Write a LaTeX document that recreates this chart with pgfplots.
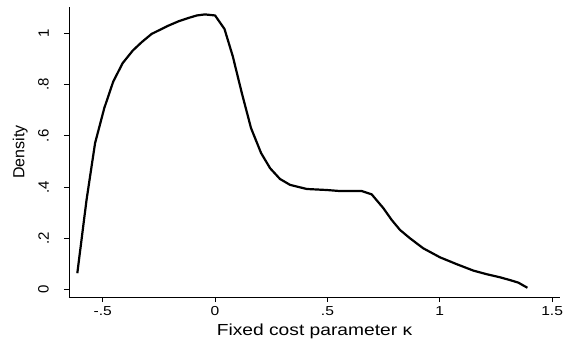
\documentclass[border=0pt]{standalone}
\usepackage{fontspec}
\setmainfont{Liberation Sans}
\newfontfamily\wideLS{Liberation Sans}[FakeStretch=1.2]
\usepackage{pgfplots}
\pgfplotsset{compat=1.18}
\begin{document}
\begin{tikzpicture}[x=1pt,y=1pt]
\path[use as bounding box] (0,0) rectangle (567,343);
\begin{axis}[
  at={(69pt,46pt)}, anchor=south west,
  scale only axis, width=491pt, height=290pt,
  xmin=-0.65, xmax=1.535, ymin=-0.03, ymax=1.103,
  axis x line*=bottom, axis y line*=left,
  axis line style={-, line width=0.9pt, black},
  tick align=outside, major tick length=5pt,
  tick style={line width=0.8pt, black},
  xtick={-0.5,0,0.5,1,1.5},
  xticklabels={-.5,0,.5,1,1.5},
  ytick={0,0.2,0.4,0.6,0.8,1},
  yticklabels={0,.2,.4,.6,.8,1},
  xticklabel style={font=\wideLS\fontsize{13}{14}\selectfont, anchor=north, inner sep=0pt, yshift=-4pt},
  yticklabel style={font=\fontsize{15}{16}\selectfont, rotate=90, anchor=south, inner sep=0pt, yshift=15pt},
  xlabel={Fixed cost parameter κ},
  ylabel={Density},
  xlabel style={font=\wideLS\fontsize{16}{18}\selectfont, anchor=north, inner sep=0pt, at={(axis description cs:0.5,0)}, yshift=-27pt},
  ylabel style={font=\fontsize{16}{18}\selectfont, anchor=south, inner sep=0pt, at={(axis description cs:0,0.5)}, yshift=41pt},
  /pgf/number format/assume math mode=true,
  clip=false,
]
\addplot[black, line width=2.2pt, line join=round] coordinates {
(-0.613,0.063) (-0.572,0.349) (-0.534,0.571) (-0.493,0.708) (-0.453,0.812)
(-0.411,0.884) (-0.366,0.933) (-0.326,0.966) (-0.282,0.998) (-0.245,1.014)
(-0.208,1.030) (-0.163,1.047) (-0.119,1.060) (-0.081,1.070) (-0.045,1.074)
(0.000,1.070) (0.042,1.017) (0.079,0.910) (0.119,0.767) (0.160,0.630)
(0.205,0.532) (0.245,0.473) (0.289,0.431) (0.334,0.408) (0.408,0.392)
(0.497,0.388) (0.556,0.384) (0.653,0.384) (0.697,0.371) (0.749,0.317)
(0.786,0.271) (0.823,0.232) (0.868,0.199) (0.927,0.160) (1.001,0.125)
(1.076,0.098) (1.150,0.073) (1.209,0.059) (1.268,0.047) (1.313,0.036)
(1.350,0.026) (1.390,0.006)
};
\end{axis}
\end{tikzpicture}
\end{document}
